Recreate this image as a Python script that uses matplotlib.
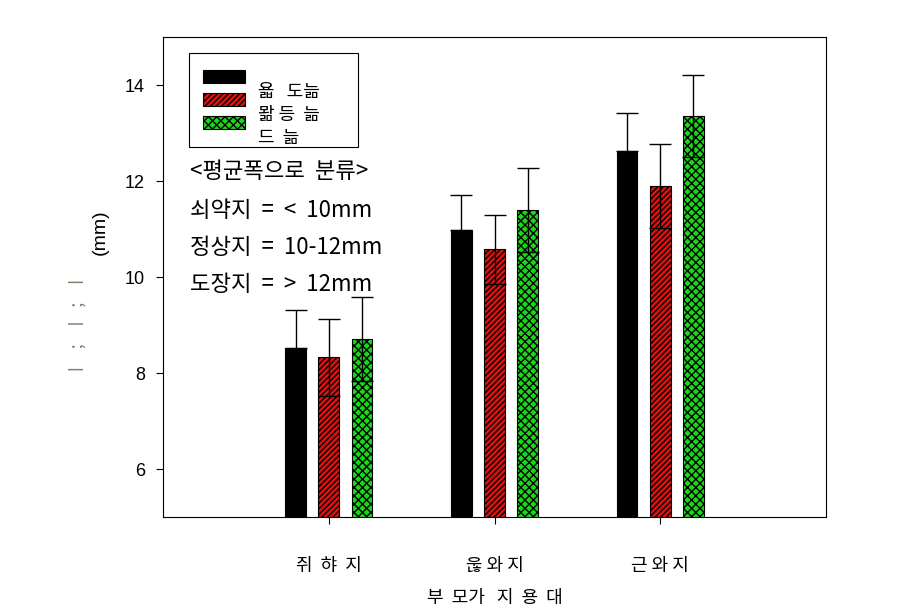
import matplotlib
matplotlib.use('Agg')
import matplotlib.pyplot as plt
import numpy as np
from matplotlib.patches import Rectangle

plt.rcParams['font.family'] = ['Noto Sans CJK KR', 'DejaVu Sans']

# data
groups = ['쥐  햐  지', '욶 와 지', '근 와 지']
series = ['욟   도늚', '뫎 등  늚', '드  늚']
black_vals = [8.52, 10.98, 12.62]
black_err = [0.80, 0.73, 0.80]
red_vals = [8.33, 10.58, 11.90]
red_err = [0.80, 0.72, 0.87]
green_vals = [8.71, 11.40, 13.35]
green_err = [0.88, 0.87, 0.85]
notes = ['<평균폭으로  분류>', '쇠약지  =  <  10mm', '정상지  =  10-12mm', '도장지  =  >  12mm']

fig = plt.figure(figsize=(9.03, 6.12), dpi=100)
ax = fig.add_axes([163/903, 1 - 517/612, 663/903, 480/612])

x = np.arange(1, len(groups) + 1)
w = 0.125
off = 0.2

ax.bar(x - off, black_vals, w, color='black', edgecolor='black', lw=0.8, zorder=2)
ax.bar(x, red_vals, w, color='#e01010', edgecolor='black', hatch='//////', lw=0.8, zorder=2)
ax.bar(x + off, green_vals, w, color='#18d818', edgecolor='black', hatch='xxxx', lw=0.8, zorder=2)

# black bar only shows the upper whisker
ax.errorbar(x - off, black_vals, yerr=[np.zeros(3), black_err], fmt='none',
            ecolor='black', elinewidth=1, capsize=8, capthick=1, zorder=3)
ax.errorbar(x, red_vals, yerr=red_err, fmt='none',
            ecolor='black', elinewidth=1, capsize=8, capthick=1, zorder=3)
ax.errorbar(x + off, green_vals, yerr=green_err, fmt='none',
            ecolor='black', elinewidth=1, capsize=8, capthick=1, zorder=3)

ax.set_xlim(0, 4)
ax.set_ylim(5, 15)
ax.set_yticks([6, 8, 10, 12, 14])
ax.set_xticks(x)
ax.set_xticklabels(groups, fontsize=13)
ax.tick_params(axis='y', labelsize=13, direction='out', length=5, width=0.8, pad=8)
ax.tick_params(axis='x', direction='out', length=5, width=0.8, pad=24)
for lab in ax.get_yticklabels():
    lab.set_family(['Liberation Sans', 'DejaVu Sans'])
for sp in ax.spines.values():
    sp.set_linewidth(0.8)

ax.set_xlabel('부  모가   지  용  대', fontsize=13, labelpad=10)

# y label: faint broken glyphs plus the unit
fig.text(78/903, 1 - 325/612, 'ㅣ   ;   ㅣ  ;   ㅣ', rotation=90, color='#8a7a6a',
         fontsize=13, ha='center', va='center')
fig.text(100/903, 1 - 232/612, '(mm)', rotation=90, fontsize=14,
         ha='center', va='center', family=['Liberation Sans', 'DejaVu Sans'])

# legend box drawn by hand
ax.add_patch(Rectangle((0.039, 0.771), 0.255, 0.196, transform=ax.transAxes,
                       facecolor='white', edgecolor='black', lw=0.8, zorder=4))
styles = [dict(facecolor='black'),
          dict(facecolor='#e01010', hatch='//////'),
          dict(facecolor='#18d818', hatch='xxxx')]
patch_y = [0.917, 0.869, 0.821]
label_y = [0.885, 0.838, 0.790]
for st, py, ly, name in zip(styles, patch_y, label_y, series):
    ax.add_patch(Rectangle((0.060, py - 0.0135), 0.063, 0.027, transform=ax.transAxes,
                           edgecolor='black', lw=0.8, zorder=5, **st))
    ax.text(0.143, ly, name, transform=ax.transAxes, fontsize=13,
            va='center', ha='left', zorder=5)

note_y = [0.719, 0.638, 0.5625, 0.485]
for ny, t in zip(note_y, notes):
    ax.text(0.041, ny, t, transform=ax.transAxes, fontsize=16,
            va='center', ha='left', zorder=5)

fig.savefig('out.png', dpi=100)
